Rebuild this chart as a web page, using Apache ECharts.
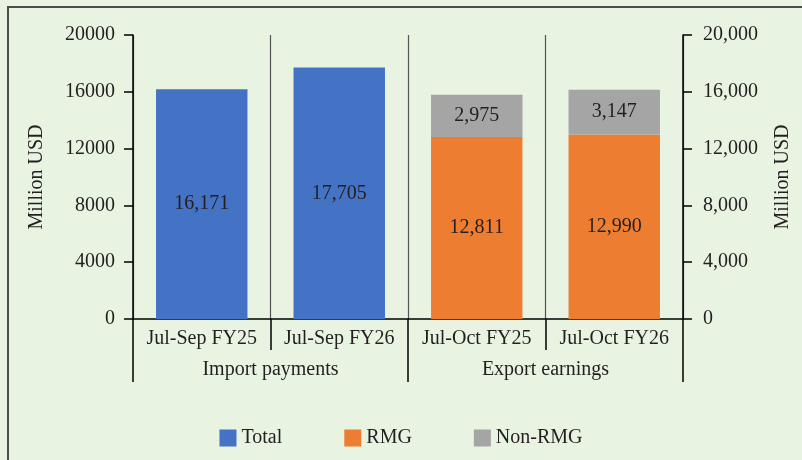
<!DOCTYPE html>
<html>
<head>
<meta charset="utf-8">
<script src="https://cdn.jsdelivr.net/npm/echarts@6/dist/echarts.min.js"></script>
<style>
  html, body { margin: 0; padding: 0; background: #e8f3e2; }
  #chart { width: 802px; height: 460px; }
</style>
</head>
<body>
<div id="chart"></div>
<script>
// Periods shown on the inner category axis and their groups on the outer one
const periods = ['Jul-Sep FY25', 'Jul-Sep FY26', 'Jul-Oct FY25', 'Jul-Oct FY26'];
const groups = ['Import payments', 'Export earnings'];

// Million USD
const totalValues = [16171, 17705, null, null];
const rmgValues = [null, null, 12811, 12990];
const nonRmgValues = [null, null, 2975, 3147];

const yTicksMax = 20000;
const yTickStep = 4000;

const FONT = 'Liberation Serif';
const FS = 20;
const TEXT = '#231f20';

const chart = echarts.init(document.getElementById('chart'), null, { renderer: 'canvas' });

const fmtComma = v => Number(v).toLocaleString('en-US');
const fmtPlain = v => String(v);

const barLabel = {
  show: true,
  position: 'inside',
  color: TEXT,
  fontFamily: FONT,
  fontSize: FS,
  formatter: p => fmtComma(p.value)
};

chart.setOption({
  backgroundColor: '#e8f3e2',
  animation: false,
  textStyle: { fontFamily: FONT, color: TEXT },
  graphic: [{
    type: 'rect',
    shape: { x: 8, y: 7, width: 900, height: 600 },
    style: { fill: null, stroke: '#4d4d4d', lineWidth: 2 },
    silent: true
  }],
  grid: { left: 133, right: 119, top: 35, bottom: 141 },
  legend: {
    left: 'center',
    top: 423,
    icon: 'rect',
    itemWidth: 17,
    itemHeight: 17,
    itemGap: 62,
    textStyle: { fontFamily: FONT, fontSize: FS, color: TEXT },
    data: ['Total', 'RMG', 'Non-RMG']
  },
  xAxis: [{
    type: 'category',
    data: periods,
    position: 'bottom',
    axisLine: { show: true, lineStyle: { color: '#000', width: 1.5 } },
    axisTick: { show: true, interval: 0, length: 31, lineStyle: { color: '#000', width: 1.5 } },
    axisLabel: { interval: 0, margin: 10, fontFamily: FONT, fontSize: FS, color: TEXT },
    splitLine: { show: true, interval: 0, lineStyle: { color: '#555', width: 1.2 } }
  }, {
    type: 'category',
    data: groups,
    position: 'bottom',
    axisLine: { show: false },
    axisTick: { show: true, interval: 0, length: 63, lineStyle: { color: '#000', width: 1.5 } },
    axisLabel: { interval: 0, margin: 41, fontFamily: FONT, fontSize: FS, color: TEXT },
    splitLine: { show: false }
  }],
  yAxis: [{
    type: 'value',
    min: 0,
    max: yTicksMax,
    interval: yTickStep,
    position: 'left',
    name: 'Million USD',
    nameLocation: 'middle',
    nameRotate: 90,
    nameGap: 86,
    nameTextStyle: { fontFamily: FONT, fontSize: FS, color: TEXT },
    axisLine: { show: true, lineStyle: { color: '#000', width: 1.5 } },
    axisTick: { show: true, length: 9, lineStyle: { color: '#000', width: 1.5 } },
    axisLabel: { margin: 18, fontFamily: FONT, fontSize: FS, color: TEXT, formatter: fmtPlain },
    splitLine: { show: false }
  }, {
    type: 'value',
    min: 0,
    max: yTicksMax,
    interval: yTickStep,
    position: 'right',
    name: 'Million USD',
    nameLocation: 'middle',
    nameRotate: 90,
    nameGap: 90,
    nameTextStyle: { fontFamily: FONT, fontSize: FS, color: TEXT },
    axisLine: { show: true, lineStyle: { color: '#000', width: 1.5 } },
    axisTick: { show: true, length: 9, lineStyle: { color: '#000', width: 1.5 } },
    axisLabel: { margin: 20, fontFamily: FONT, fontSize: FS, color: TEXT, formatter: fmtComma },
    splitLine: { show: false }
  }],
  series: [{
    name: 'Total',
    type: 'bar',
    stack: 'all',
    barWidth: '66.5%',
    itemStyle: { color: '#4472c4' },
    label: barLabel,
    data: totalValues
  }, {
    name: 'RMG',
    type: 'bar',
    stack: 'all',
    itemStyle: { color: '#ed7d31' },
    label: barLabel,
    data: rmgValues
  }, {
    name: 'Non-RMG',
    type: 'bar',
    stack: 'all',
    itemStyle: { color: '#a5a5a5' },
    label: barLabel,
    data: nonRmgValues
  }]
});
</script>
</body>
</html>
